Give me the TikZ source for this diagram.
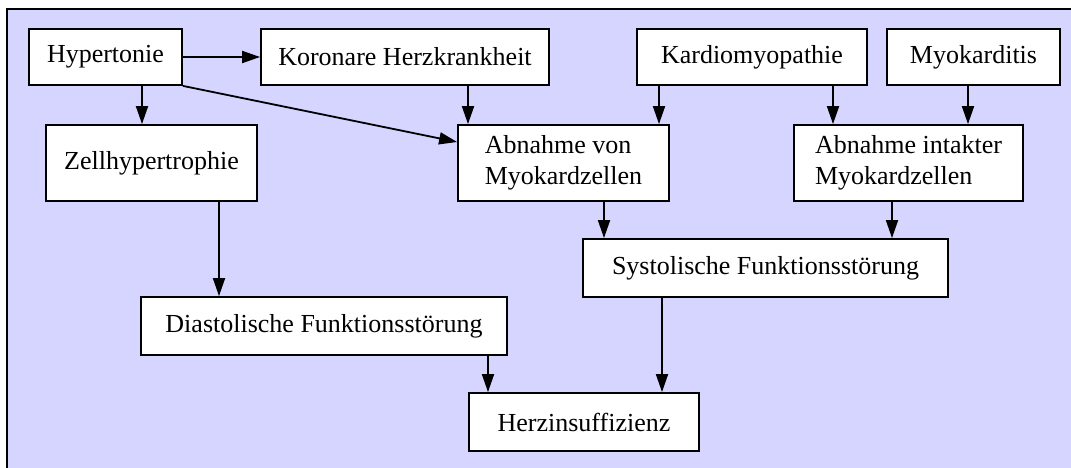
\documentclass[tikz,border=0pt]{standalone}
\usepackage{fontspec}
\setmainfont{Liberation Serif}
\usetikzlibrary{arrows.meta}
\definecolor{bgblue}{RGB}{213,213,255}
\begin{document}
\begin{tikzpicture}[x=1pt,y=-1pt,
  box/.style={draw=black, fill=white, line width=1.8pt, inner sep=0pt, align=center,
    font=\fontsize{26}{31}\selectfont, minimum height=56pt},
  tall/.style={minimum height=76pt, align=left},
  mid/.style={minimum height=58pt},
  arr/.style={line width=1.8pt, -{Triangle[length=18pt,width=12pt]}}]
\useasboundingbox (0,0) rectangle (1071,468);
\fill[bgblue] (7,9) rectangle (1071,468);
\draw[line width=2pt] (7,468) -- (7,9) -- (1071,9);

\node[box, minimum width=153pt] (hyp) at (105.5,57) {Hypertonie};
\node[box, minimum width=288pt] (kor) at (405,57) {Koronare Herzkrankheit};
\node[box, minimum width=230pt] (kard) at (752,57) {Kardiomyopathie};
\node[box, minimum width=173pt] (myo) at (973.5,57) {Myokarditis};
\node[box, tall, minimum width=211pt] (zell) at (151.5,163) {Zellhypertrophie};
\node[box, tall, minimum width=211pt] (abv) at (563.5,163) {Abnahme von\\Myokardzellen};
\node[box, tall, minimum width=229pt] (abi) at (908.5,163) {Abnahme intakter\\Myokardzellen};
\node[box, mid, minimum width=365pt] (sys) at (765.5,268) {Systolische Funktionsstörung};
\node[box, mid, minimum width=366pt] (dia) at (324,326) {Diastolische Funktionsstörung};
\node[box, mid, minimum width=230pt] (herz) at (584,422) {Herzinsuffizienz};

\draw[arr] (hyp.east) -- (kor.west);
\draw[arr] (hyp.south -| 142,0) -- (zell.north -| 142,0);
\draw[arr] (hyp.south east) -- ([yshift=21pt]abv.west);
\draw[arr] (kor.south -| 468,0) -- (abv.north -| 468,0);
\draw[arr] (kard.south -| 659,0) -- (abv.north -| 659,0);
\draw[arr] (kard.south -| 833,0) -- (abi.north -| 833,0);
\draw[arr] (myo.south -| 968,0) -- (abi.north -| 968,0);
\draw[arr] (abv.south -| 604,0) -- (sys.north -| 604,0);
\draw[arr] (abi.south -| 892,0) -- (sys.north -| 892,0);
\draw[arr] (zell.south -| 219,0) -- (dia.north -| 219,0);
\draw[arr] (dia.south -| 488,0) -- (herz.north -| 488,0);
\draw[arr] (sys.south -| 662,0) -- (herz.north -| 662,0);
\end{tikzpicture}
\end{document}
